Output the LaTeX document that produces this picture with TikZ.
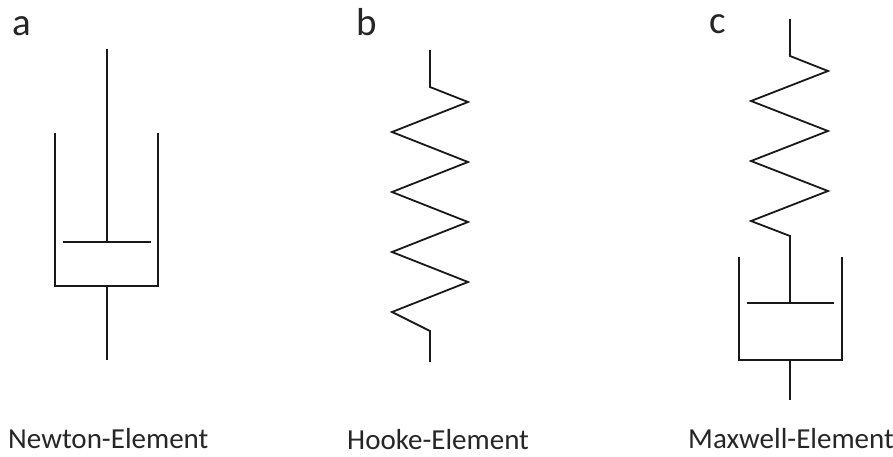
\documentclass[tikz,border=0pt]{standalone}
\usepackage{fontspec}
\setmainfont{Carlito}
\tikzset{ln/.style={line width=1.8pt,black!90,line join=miter},
lab/.style={font=\fontsize{39}{44}\selectfont,inner sep=0,anchor=base west,text=black!85},
captxt/.style={font=\fontsize{29}{34}\selectfont,inner sep=0,anchor=base west,text=black!85}}
\begin{document}
\begin{tikzpicture}[x=1pt,y=-1pt]
\useasboundingbox (0,0) rectangle (893,456);
\node[lab] (la) at (12.5,35) {a};
\node[lab] (lb) at (356,35) {b};
\node[lab] (lc) at (709,33) {c};
% a
\draw[ln] (107,49)--(107,242);
\draw[ln] (63,242)--(151,242);
\draw[ln] (55,133)--(55,286)--(158,286)--(158,133);
\draw[ln] (107,286)--(107,360);
% b
\draw[ln] (430,50)--(430,87)--(468,102)--(392,132)--(468,162)--(392,192)--(468,222)--(392,252)--(468,282)--(392,312)--(430,331)--(430,362);
% c
\draw[ln] (790,19)--(790,56)--(828,71)--(751,101)--(828,131)--(751,161)--(828,191)--(751,221)--(790,236)--(790,303);
\draw[ln] (747,303)--(834,303);
\draw[ln] (739,257)--(739,360)--(842,360)--(842,257);
\draw[ln] (790,360)--(790,400);
\node[captxt] (ca) at (8,448) {Newton-Element};
\node[captxt] (cb) at (347,449) {Hooke-Element};
\node[captxt] (cc) at (688,448) {Maxwell-Element};
\end{tikzpicture}
\end{document}
